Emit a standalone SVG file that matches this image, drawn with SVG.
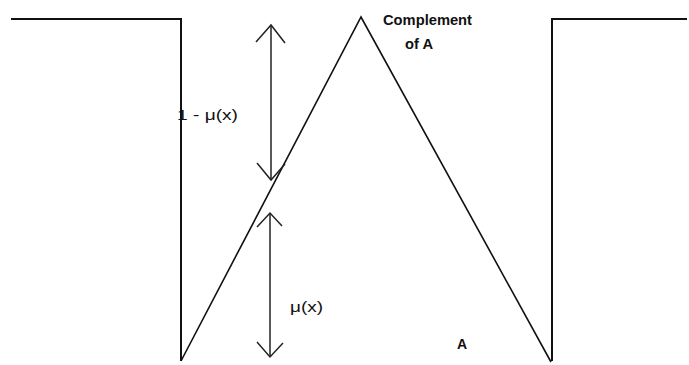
<svg xmlns="http://www.w3.org/2000/svg" width="689" height="365" viewBox="0 0 689 365">
<style>
.ln{fill:none;stroke:#111;stroke-width:2}
.tri{fill:none;stroke:#111;stroke-width:1.6}
.ar{fill:none;stroke:#222;stroke-width:1.5}
.t{font-family:"Liberation Sans",Arial,sans-serif;font-size:14px;fill:#111}
.b{font-weight:bold}
</style>
<rect width="689" height="365" fill="#fff"/>
<g id="complementA">
<polyline class="ln" points="11,19 181,19 181,361"/>
<polyline class="ln" points="552,361 552,19 687,19"/>
</g>
<g id="setA">
<polyline class="tri" points="181,361 361,17 551,362"/>
</g>
<g id="connectors">
<line class="ar" x1="271" y1="25" x2="271" y2="180"/>
<polyline class="ar" points="256,42 271,25 285,43"/>
<polyline class="ar" points="257,163 271,180 285,164"/>
<line class="ar" x1="270" y1="213" x2="270" y2="357"/>
<polyline class="ar" points="257,227 270,213 282,226"/>
<polyline class="ar" points="257,342 270,357 283,343"/>
</g>
<g id="labels">
<text class="t b" x="383" y="25" textLength="89" lengthAdjust="spacingAndGlyphs">Complement</text>
<text class="t b" x="405" y="49" textLength="28" lengthAdjust="spacingAndGlyphs">of A</text>
<text class="t" x="177" y="120" textLength="61" lengthAdjust="spacingAndGlyphs">1 - μ(x)</text>
<text class="t" x="290" y="312" textLength="33" lengthAdjust="spacingAndGlyphs">μ(x)</text>
<text class="t b" x="457" y="349">A</text>
</g>
</svg>
